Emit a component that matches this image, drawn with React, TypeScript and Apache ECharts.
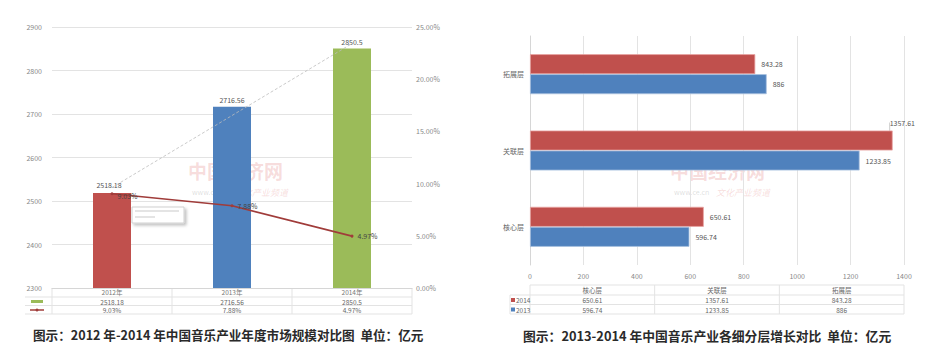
import React, { useEffect, useRef } from "react";
import * as echarts from "echarts";

// Left chart data
const years = ["2012年", "2013年", "2014年"];
const marketSize = [2518.18, 2716.56, 2850.5];
const growthRate = [9.03, 7.88, 4.97];
const trendLine = [2531, null, 2862];
const leftTicks = { min: 2300, max: 2900, interval: 100 };
const rightTicks = { min: 0, max: 25, interval: 5 };

// Right chart data
const layers = ["核心层", "关联层", "拓展层"];
const seriesNames = ["2014", "2013"];
const values2014 = [650.61, 1357.61, 843.28];
const values2013 = [596.74, 1233.85, 886];
const xTicks = { min: 0, max: 1400, interval: 200 };

const title1 = "图示：2012 年-2014 年中国音乐产业年度市场规模对比图  单位：亿元";
const title2 = "图示：2013-2014 年中国音乐产业各细分层增长对比  单位：亿元";

const RED = "#c0504d";
const BLUE = "#4f81bd";
const GREEN = "#9bbb59";
const LINE = "#a03c3a";
const FONT = "'Noto Sans CJK SC', 'Noto Sans', sans-serif";
const GRID = "#e3e3e3";

export default function App() {
  const ref = useRef<HTMLDivElement>(null);
  useEffect(() => {
    if (!ref.current) return;
    const chart = echarts.init(ref.current, null, { renderer: "svg" });

    const L = { left: 52, right: 412, top: 27, bottom: 288 };
    const R = { left: 530, right: 904, top: 36, bottom: 265 };
    const lBand = (L.right - L.left) / years.length;
    const rCol = (R.right - R.left) / layers.length;

    const g: any[] = [];
    const hline = (x1: number, x2: number, y: number) =>
      g.push({ type: "line", shape: { x1, y1: y, x2, y2: y }, style: { stroke: GRID, lineWidth: 1 }, silent: true });
    const vline = (x: number, y1: number, y2: number) =>
      g.push({ type: "line", shape: { x1: x, y1, x2: x, y2 }, style: { stroke: GRID, lineWidth: 1 }, silent: true });
    const txt = (x: number, y: number, text: string, extra: any = {}) =>
      g.push({
        type: "text",
        x,
        y,
        silent: true,
        style: { text, fill: "#666", font: `6.5px ${FONT}`, align: "center", verticalAlign: "middle", ...extra },
      });

    // left table
    hline(25, L.right, 297);
    hline(25, L.right, 305.5);
    hline(25, L.right, 314);
    [L.left, L.left + lBand, L.left + 2 * lBand, L.right].forEach((x) => vline(x, 288, 314));
    years.forEach((_, i) => {
      const cx = L.left + lBand * (i + 0.5);
      txt(cx, 301.5, String(marketSize[i]));
      txt(cx, 310, growthRate[i].toFixed(2) + "%");
    });
    g.push({ type: "rect", shape: { x: 31, y: 300, width: 12, height: 3 }, style: { fill: GREEN }, silent: true });
    g.push({ type: "line", shape: { x1: 30, y1: 310, x2: 44, y2: 310 }, style: { stroke: LINE, lineWidth: 1.5 }, silent: true });
    g.push({ type: "circle", shape: { cx: 37, cy: 310, r: 1.5 }, style: { fill: LINE }, silent: true });

    // tooltip-like box artefact
    g.push({
      type: "rect",
      shape: { x: 132, y: 207, width: 52, height: 16 },
      style: { fill: "#fff", stroke: "#d0d0d0", lineWidth: 1, shadowBlur: 3, shadowOffsetX: 2, shadowOffsetY: 2, shadowColor: "rgba(0,0,0,0.25)" },
      silent: true,
    });
    g.push({ type: "rect", shape: { x: 135, y: 210, width: 44, height: 2 }, style: { fill: "#e4e4e4" }, silent: true });
    g.push({ type: "rect", shape: { x: 135, y: 216, width: 20, height: 2 }, style: { fill: "#e4e4e4" }, silent: true });

    // right table
    hline(R.left, R.right, 285);
    hline(510, R.right, 295);
    hline(510, R.right, 304.5);
    hline(510, R.right, 314);
    [R.left, R.left + rCol, R.left + 2 * rCol, R.right].forEach((x) => vline(x, 285, 314));
    vline(510, 295, 314);
    layers.forEach((name, i) => {
      const cx = R.left + rCol * (i + 0.5);
      txt(cx, 290, name);
      txt(cx, 300, String(values2014[i]));
      txt(cx, 309.5, String(values2013[i]));
    });
    [RED, BLUE].forEach((c, k) => {
      const y = k === 0 ? 300 : 309.5;
      g.push({ type: "rect", shape: { x: 511, y: y - 2, width: 4, height: 4 }, style: { fill: c }, silent: true });
      txt(516, y, seriesNames[k], { align: "left" });
    });

    // watermarks
    const wm = (x: number, y: number) => {
      g.push({ type: "text", x, y, silent: true, style: { text: "中国经济网", fill: "rgba(220,100,100,0.22)", font: `bold 19px ${FONT}`, align: "left", verticalAlign: "middle" } });
      g.push({ type: "text", x: x + 4, y: y + 22, silent: true, style: { text: "www.ce.cn", fill: "rgba(120,120,120,0.25)", font: `7px ${FONT}`, align: "left", verticalAlign: "middle" } });
      g.push({ type: "text", x: x + 46, y: y + 22, silent: true, style: { text: "文化产业频道", fill: "rgba(220,100,100,0.22)", font: `italic 9px ${FONT}`, align: "left", verticalAlign: "middle" } });
    };
    wm(188, 170);
    wm(670, 170);

    // titles
    g.push({ type: "text", x: 33, y: 334, silent: true, style: { text: title1, fill: "#2a2a2a", font: `bold 12.6px ${FONT}`, align: "left", verticalAlign: "middle" } });
    g.push({ type: "text", x: 523, y: 335, silent: true, style: { text: title2, fill: "#2a2a2a", font: `bold 12.8px ${FONT}`, align: "left", verticalAlign: "middle" } });

    const axisText = { color: "#888", fontSize: 7, fontFamily: FONT };
    const plain = (v: number) => String(v);

    chart.setOption({
      animation: false,
      backgroundColor: "#fff",
      textStyle: { fontFamily: FONT },
      grid: [
        { left: L.left, width: L.right - L.left, top: L.top, height: L.bottom - L.top, containLabel: false },
        { left: R.left, width: R.right - R.left, top: R.top, height: R.bottom - R.top, containLabel: false },
      ],
      xAxis: [
        {
          type: "category",
          gridIndex: 0,
          data: years,
          axisLine: { lineStyle: { color: "#d6d6d6" } },
          axisTick: { show: false },
          axisLabel: { color: "#777", fontSize: 6.5, fontFamily: FONT, margin: 1 },
        },
        {
          type: "value",
          gridIndex: 1,
          ...xTicks,
          axisLine: { show: false },
          axisTick: { show: false },
          axisLabel: { ...axisText, margin: 7, formatter: plain },
          splitLine: { lineStyle: { color: GRID } },
        },
      ],
      yAxis: [
        {
          type: "value",
          gridIndex: 0,
          ...leftTicks,
          axisLine: { show: false },
          axisTick: { show: false },
          axisLabel: { ...axisText, margin: 10, align: "right", formatter: plain },
          splitLine: { lineStyle: { color: GRID } },
        },
        {
          type: "value",
          gridIndex: 0,
          ...rightTicks,
          position: "right",
          axisLine: { show: false },
          axisTick: { show: false },
          axisLabel: { ...axisText, margin: 4, formatter: (v: number) => v.toFixed(2) + "%" },
          splitLine: { show: false },
        },
        {
          type: "category",
          gridIndex: 1,
          data: layers,
          axisLine: { lineStyle: { color: "#d6d6d6" } },
          axisTick: { show: false },
          axisLabel: { color: "#666", fontSize: 7, fontFamily: FONT, margin: 6 },
        },
      ],
      series: [
        {
          type: "bar",
          xAxisIndex: 0,
          yAxisIndex: 0,
          barWidth: 38,
          data: marketSize.map((v, i) => ({ value: v, itemStyle: { color: [RED, BLUE, GREEN][i] } })),
          label: { show: true, position: "top", distance: 3, color: "#555", fontSize: 7, fontFamily: FONT },
          labelLayout: (p: any) => (p.dataIndex === 0 ? { dy: -2, dx: -3 } : {}),
        },
        {
          type: "line",
          xAxisIndex: 0,
          yAxisIndex: 0,
          data: trendLine,
          connectNulls: true,
          symbol: "none",
          lineStyle: { color: "#bcbcbc", width: 0.8, type: [3, 2] },
          z: 3,
        },
        {
          type: "line",
          xAxisIndex: 0,
          yAxisIndex: 1,
          data: growthRate,
          symbol: "circle",
          symbolSize: 3,
          itemStyle: { color: LINE },
          lineStyle: { color: LINE, width: 1.6 },
          label: {
            show: true,
            position: "right",
            distance: 4,
            color: "#444",
            fontSize: 7,
            fontFamily: FONT,
            formatter: (p: any) => p.value.toFixed(2) + "%",
          },
          labelLayout: (p: any) => (p.dataIndex === 0 ? { dy: 2 } : {}),
          z: 4,
        },
        {
          type: "bar",
          name: seriesNames[0],
          xAxisIndex: 1,
          yAxisIndex: 2,
          data: values2014.map((v, i) => ({
            value: v,
            labelLine: { show: i === 1, lineStyle: { color: "#aaa", width: 0.6 } },
          })),
          barWidth: 20,
          barGap: "0%",
          itemStyle: { color: RED, borderColor: "#e8a5a3", borderWidth: 0.8 },
          label: { show: true, position: "right", distance: 6, color: "#555", fontSize: 7, fontFamily: FONT },
          labelLayout: (p: any) => (p.dataIndex === 1 ? { dx: -9, dy: -18 } : {}),
          labelLine: { show: false },
        },
        {
          type: "bar",
          name: seriesNames[1],
          xAxisIndex: 1,
          yAxisIndex: 2,
          data: values2013,
          barWidth: 20,
          barGap: "0%",
          itemStyle: { color: BLUE, borderColor: "#a9c1e0", borderWidth: 0.8 },
          label: { show: true, position: "right", distance: 6, color: "#555", fontSize: 7, fontFamily: FONT },
        },
      ],
      graphic: g,
    });
    return () => chart.dispose();
  }, []);
  return <div ref={ref} style={{ position: "fixed", left: 0, top: 0, width: 940, height: 353 }} />;
}
